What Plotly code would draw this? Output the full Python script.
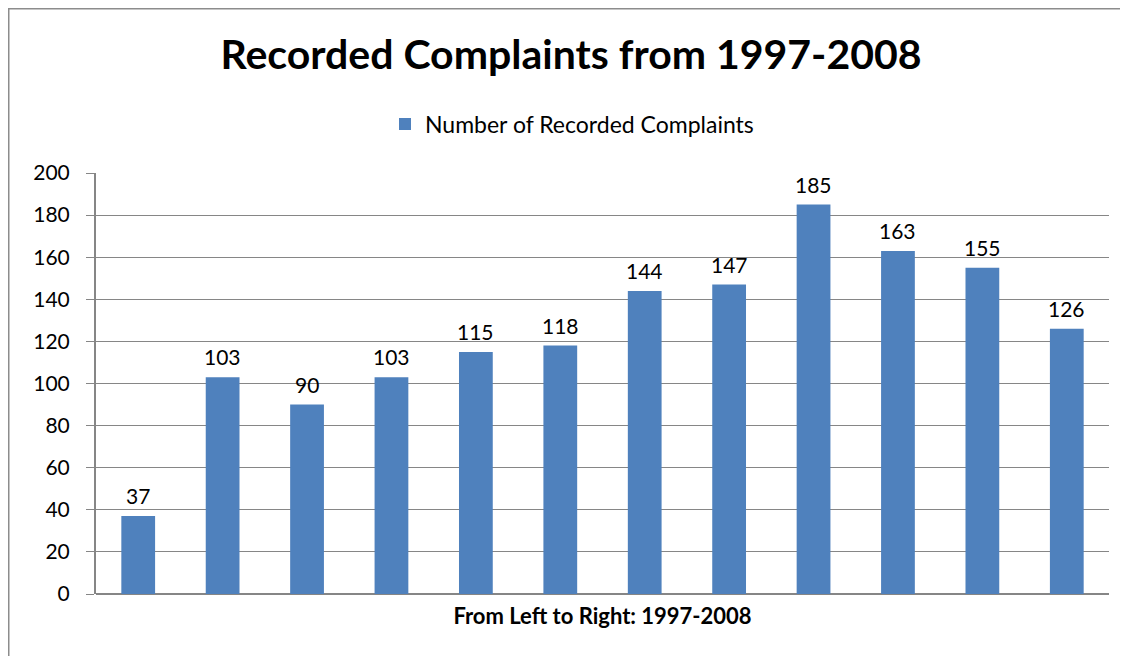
import plotly.graph_objects as go

years = ["1997", "1998", "1999", "2000", "2001", "2002", "2003", "2004", "2005", "2006", "2007", "2008"]
complaints = [37, 103, 90, 103, 115, 118, 144, 147, 185, 163, 155, 126]
y_ticks = [0, 20, 40, 60, 80, 100, 120, 140, 160, 180, 200]

# page body has an 8px margin, so figure coords = screen coords - 8
W, H = 1128, 656
L, R, T, B = 88, 27, 165, 70
pw, ph = W - L - R, H - T - B

def px_x(x):
    return (x - L) / pw

def px_y(y):
    return 1 - (y - T) / ph

FONT = "Lato"

fig = go.Figure()
fig.add_trace(go.Bar(
    x=years, y=complaints, name="Number of Recorded Complaints",
    marker=dict(color="#4F81BD", line=dict(width=0)),
))

# value labels above bars (category index positions on the category axis)
for i, v in enumerate(complaints):
    fig.add_annotation(x=i, y=v, xref="x", yref="y", text=str(v),
                       showarrow=False, yanchor="bottom", yshift=6,
                       font=dict(size=21, color="#000000", family=FONT))

fig.update_layout(
    width=W, height=H,
    margin=dict(l=L, r=R, t=T, b=B),
    paper_bgcolor="white", plot_bgcolor="white",
    font=dict(family=FONT, color="#000000"),
    bargap=0.6,
    showlegend=True,
    title=dict(text="<b>Recorded Complaints from 1997-2008</b>",
               x=px_x(563), xref="paper", xanchor="center",
               y=1 - 47 / H, yref="container", yanchor="middle",
               font=dict(size=41, family=FONT, color="#000000")),
    legend=dict(orientation="h", x=px_x(564), xanchor="center",
                y=px_y(116), yanchor="middle",
                font=dict(size=23, family=FONT, color="#000000")),
    xaxis=dict(type="category", range=[-0.5, len(years) - 0.5],
               showticklabels=False, showgrid=False, ticks="",
               showline=False, zeroline=False,
               title=dict(text="<b>From Left to Right: 1997-2008</b>",
                          font=dict(size=22, family=FONT, color="#000000"),
                          standoff=14)),
    yaxis=dict(range=[0, 200], tickvals=y_ticks, showgrid=True,
               gridcolor="#868686", gridwidth=1.2,
               zeroline=True, zerolinecolor="#868686", zerolinewidth=1.5,
               showline=True, linecolor="#868686", linewidth=2,
               ticks="outside", ticklen=8, tickcolor="#868686", tickwidth=1.2,
               ticklabelstandoff=12,
               tickfont=dict(size=21, family=FONT, color="#000000")),
)

# chart-area border (top and left edges visible)
fig.add_shape(type="line", xref="paper", yref="paper",
              x0=px_x(0), x1=px_x(1130), y0=px_y(0.75), y1=px_y(0.75),
              line=dict(color="#8C8C8C", width=1.5))
fig.add_shape(type="line", xref="paper", yref="paper",
              x0=px_x(0.75), x1=px_x(0.75), y0=px_y(0), y1=px_y(660),
              line=dict(color="#8C8C8C", width=1.5))

fig.write_html("out.html")
